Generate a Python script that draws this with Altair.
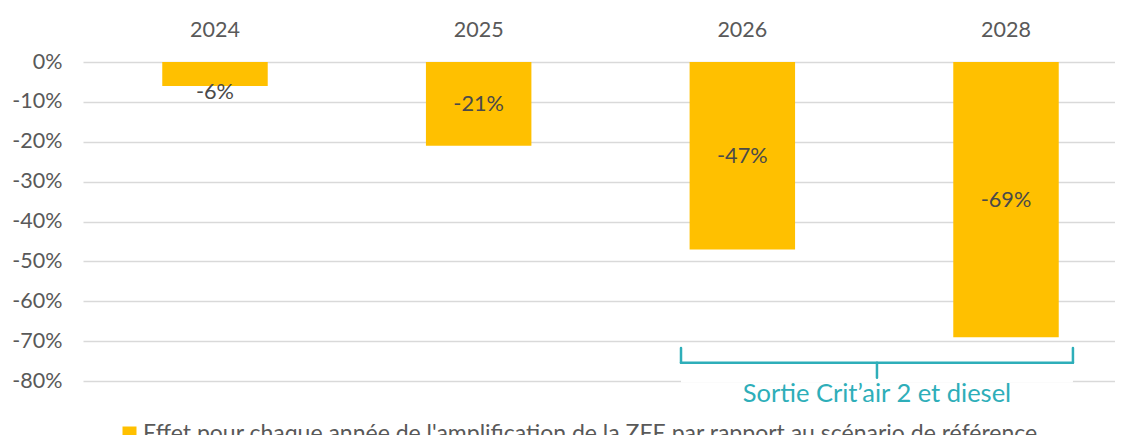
import altair as alt
import pandas as pd

FONT = "Lato"
TXT = "#595959"
BAR = "#FFC000"
TEAL = "#2EAEB9"

years = ["2024", "2025", "2026", "2028"]
values = [-6, -21, -47, -69]
y_ticks = [0, -10, -20, -30, -40, -50, -60, -70, -80]
series_name = "Effet pour chaque année de l'amplification de la ZFE par rapport au scénario de référence"
bracket_start = ["2026"]
bracket_end = ["2028"]
bracket_label = ["Sortie Crit\u2019air 2 et diesel"]

df = pd.DataFrame({"year": years, "value": values, "serie": [series_name] * len(years)})
br = pd.DataFrame({"start": bracket_start, "end": bracket_end, "label": bracket_label})

xscale = alt.Scale(domain=years, range=[0, 1055], paddingInner=0.6, paddingOuter=0.3006)
yscale = alt.Scale(domain=[-80, 0], nice=False, zero=False)

xaxis = alt.Axis(orient="top", labelAngle=0, ticks=False, tickSize=0, domain=False, grid=False,
                 labelFontSize=21.5, labelColor=TXT, labelFont=FONT, labelPadding=26,
                 labelBaseline="alphabetic", title=None)
yaxis = alt.Axis(values=y_ticks, labelExpr="datum.value + '%'", ticks=False, tickSize=0,
                 domain=False, grid=True, gridColor="#D9D9D9", gridWidth=1.3,
                 labelFontSize=21.5, labelColor=TXT, labelFont=FONT, labelPadding=21, title=None)


def X(field, bp=0.5):
    return alt.X(field, sort=years, scale=xscale, axis=xaxis, title=None, bandPosition=bp)


def Yd(v):
    return alt.Y(datum=v, type="quantitative", scale=yscale, axis=yaxis, title=None)


# bracket offsets (pixels) relative to band edges
L_OFF = -8.6
R_OFF = 14.2
C_OFF = -76.3

bars = alt.Chart(df).mark_bar().encode(
    x=X("year:N"),
    y=alt.Y("value:Q", scale=yscale, axis=yaxis, title=None),
    color=alt.Color("serie:N", scale=alt.Scale(range=[BAR]),
                    legend=alt.Legend(title=None, orient="none", legendX=35, legendY=360,
                                      direction="horizontal", symbolType="square", symbolSize=196,
                                      symbolStrokeWidth=0, labelFontSize=23, labelColor=TXT,
                                      labelFont=FONT, labelLimit=2000, labelOffset=2, padding=0)),
)

labels = alt.Chart(df).transform_calculate(
    label="datum.value + '%'",
    ly="abs(datum.value) > 10 ? datum.value / 2 : datum.value - 1.5",
).mark_text(fontSize=21.7, font=FONT, color="#4A4A4A").encode(
    x=X("year:N"),
    y=alt.Y("ly:Q", scale=yscale, axis=yaxis, title=None),
    text="label:N",
)

# white mask over the -80% gridline under the annotation
mask = alt.Chart(br).mark_rule(color="white", strokeWidth=3, xOffset=L_OFF, x2Offset=R_OFF).encode(
    x=X("start:N", 0),
    x2=alt.X2("end", bandPosition=1),
    y=Yd(-80),
)
hline = alt.Chart(br).mark_rule(color=TEAL, strokeWidth=2.5, strokeCap="round",
                                xOffset=L_OFF, x2Offset=R_OFF).encode(
    x=X("start:N", 0),
    x2=alt.X2("end", bandPosition=1),
    y=Yd(-75.4),
)
left_end = alt.Chart(br).mark_rule(color=TEAL, strokeWidth=2.5, strokeCap="round", xOffset=L_OFF).encode(
    x=X("start:N", 0),
    y=Yd(-71.7),
    y2=alt.Y2(datum=-75.4),
)
right_end = alt.Chart(br).mark_rule(color=TEAL, strokeWidth=2.5, strokeCap="round", xOffset=R_OFF).encode(
    x=X("end:N", 1),
    y=Yd(-71.7),
    y2=alt.Y2(datum=-75.4),
)
center_tick = alt.Chart(br).mark_rule(color=TEAL, strokeWidth=2.5, strokeCap="round", xOffset=C_OFF).encode(
    x=X("end:N", 0),
    y=Yd(-75.4),
    y2=alt.Y2(datum=-79.2),
)
br_text = alt.Chart(br).mark_text(fontSize=25.5, font=FONT, color=TEAL, baseline="middle", dx=C_OFF).encode(
    x=X("end:N", 0),
    y=Yd(-83.2),
    text="label:N",
)

chart = alt.layer(bars, labels, mask, hline, left_end, right_end, center_tick, br_text).properties(
    width=1032,
    height=319,
    autosize=alt.AutoSizeParams(type="none"),
    padding={"left": 75, "top": 54, "right": 0, "bottom": 54},
    background="white",
).configure_view(stroke=None)

chart.save("out.html", embed_options={"renderer": "svg", "actions": False})
